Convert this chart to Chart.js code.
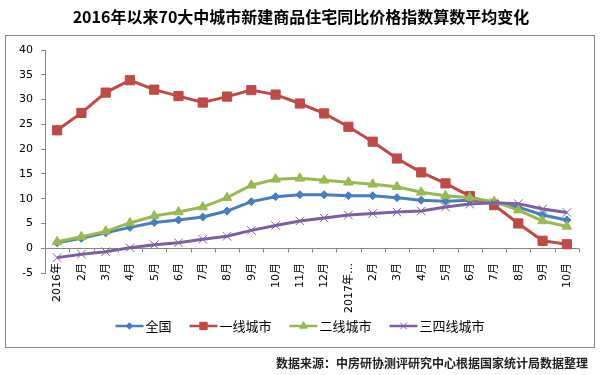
<!DOCTYPE html>
<html>
<head>
<meta charset="utf-8">
<script src="https://cdn.jsdelivr.net/npm/chart.js@4/dist/chart.umd.min.js"></script>
<style>
  html, body { margin: 0; padding: 0; background: #fff; }
  #wrap { width: 600px; height: 375px; }
</style>
</head>
<body>
<div id="wrap"><canvas id="chart" width="600" height="375"></canvas></div>
<script>
const months = ['2016年', '2月', '3月', '4月', '5月', '6月', '7月', '8月', '9月', '10月', '11月', '12月',
  '2017年…', '2月', '3月', '4月', '5月', '6月', '7月', '8月', '9月', '10月'];
const yTicks = [-5, 0, 5, 10, 15, 20, 25, 30, 35, 40];
const seriesNames = ['全国', '一线城市', '二线城市', '三四线城市'];

const national = [1.1, 2.0, 3.1, 4.2, 5.2, 5.7, 6.3, 7.5, 9.4, 10.4, 10.8, 10.8, 10.6, 10.6, 10.2, 9.7, 9.5, 9.7, 9.2, 8.3, 6.7, 5.7];
const tier1 = [23.8, 27.3, 31.4, 33.9, 32.0, 30.7, 29.4, 30.6, 31.9, 31.0, 29.2, 27.2, 24.5, 21.5, 18.1, 15.3, 13.1, 10.5, 8.7, 5.0, 1.5, 0.8];
const tier2 = [1.3, 2.3, 3.4, 5.1, 6.5, 7.3, 8.3, 10.2, 12.7, 13.9, 14.1, 13.7, 13.3, 12.9, 12.4, 11.3, 10.6, 10.2, 9.4, 7.7, 5.5, 4.4];
const tier34 = [-1.9, -1.2, -0.7, 0.1, 0.7, 1.1, 1.8, 2.4, 3.6, 4.6, 5.5, 6.1, 6.7, 7.0, 7.3, 7.5, 8.3, 8.9, 9.2, 9.0, 7.9, 7.2];

const titleText = '2016年以来70大中城市新建商品住宅同比价格指数算数平均变化';
const sourceText = '数据来源：中房研协测评研究中心根据国家统计局数据整理';

const axisColor = '#868686';
const cjk = '"Noto Sans CJK SC", sans-serif';
const tickFont = '"DejaVu Sans", "Noto Sans CJK SC", sans-serif';

const styles = [
  { color: '#4A7EBB', point: 'rectRot', radius: 4 },
  { color: '#BE4B48', point: 'rect', radius: 6.5 },
  { color: '#98B954', point: 'triangle', radius: 5.5 },
  { color: '#7D60A0', point: 'crossRot', radius: 6 },
];
const allData = [national, tier1, tier2, tier34];

// frame, title, source, zero line ticks, x labels and the legend (line + marker)
const decor = {
  id: 'decor',
  beforeDraw(chart) {
    const { ctx } = chart;
    ctx.save();
    ctx.fillStyle = '#fff';
    ctx.fillRect(0, 0, chart.width, chart.height);
    ctx.strokeStyle = axisColor;
    ctx.lineWidth = 1;
    ctx.strokeRect(5.5, 35.5, 589, 312);
    ctx.fillStyle = '#000';
    ctx.textAlign = 'center';
    ctx.textBaseline = 'middle';
    ctx.font = 'bold 16px ' + cjk;
    ctx.fillText(titleText, 301, 17);
    ctx.textAlign = 'right';
    ctx.font = 'bold 12px ' + cjk;
    ctx.fillStyle = '#222';
    ctx.fillText(sourceText, 588, 363);
    ctx.restore();
  },
  afterDraw(chart) {
    const { ctx, scales } = chart;
    const x = scales.x, y = scales.y;
    const y0 = Math.round(y.getPixelForValue(0)) + 0.5;
    const step = (x.right - x.left) / months.length;
    ctx.save();
    ctx.strokeStyle = axisColor;
    ctx.lineWidth = 1;
    ctx.beginPath();
    for (let i = 0; i <= months.length; i++) {
      const px = Math.round(x.left + i * step) + 0.5;
      ctx.moveTo(px, y0);
      ctx.lineTo(px, y0 + 4);
    }
    ctx.stroke();

    // month labels, rotated, ending just above the bottom of the plot
    ctx.fillStyle = '#000';
    ctx.font = '11px ' + tickFont;
    ctx.textAlign = 'right';
    ctx.textBaseline = 'middle';
    months.forEach((m, i) => {
      ctx.save();
      ctx.translate(x.getPixelForTick(i) + 0.5, y.bottom - 10);
      ctx.rotate(-Math.PI / 2);
      ctx.fillText(m, 0, 0);
      ctx.restore();
    });

    // legend
    ctx.font = '13px ' + cjk;
    ctx.textBaseline = 'middle';
    ctx.textAlign = 'left';
    const lineW = 28, gap = 18, ly = 326;
    const widths = seriesNames.map((n) => lineW + 2 + ctx.measureText(n).width);
    let lx = 300 - (widths.reduce((a, b) => a + b, 0) + gap * (widths.length - 1)) / 2;
    seriesNames.forEach((name, i) => {
      const s = styles[i];
      ctx.strokeStyle = s.color;
      ctx.lineWidth = 2.5;
      ctx.beginPath();
      ctx.moveTo(lx, ly);
      ctx.lineTo(lx + lineW, ly);
      ctx.stroke();
      ctx.fillStyle = s.color;
      ctx.lineWidth = 1;
      Chart.helpers.drawPoint(ctx, { pointStyle: s.point, radius: s.radius * 0.8, borderWidth: 1 }, lx + lineW / 2, ly);
      ctx.fillStyle = '#000';
      ctx.fillText(name, lx + lineW + 2, ly);
      lx += widths[i] + gap;
    });
    ctx.restore();
  },
};

new Chart(document.getElementById('chart'), {
  type: 'line',
  data: {
    labels: months,
    datasets: allData.map((d, i) => ({
      label: seriesNames[i],
      data: d,
      borderColor: styles[i].color,
      backgroundColor: styles[i].color,
      borderWidth: 3,
      pointStyle: styles[i].point,
      pointRadius: styles[i].radius,
      pointBorderColor: styles[i].color,
      pointBackgroundColor: styles[i].color,
      pointBorderWidth: 1,
      tension: 0,
      order: 4 - i,
    })),
  },
  options: {
    responsive: false,
    animation: false,
    layout: { padding: { left: 0, right: 21, top: 50, bottom: 0 } },
    plugins: {
      legend: { display: false },
      title: { display: false },
      tooltip: { enabled: false },
    },
    scales: {
      x: {
        offset: true,
        grid: { display: false, drawTicks: false, tickLength: 0 },
        border: { display: false },
        ticks: { display: false, autoSkip: false },
        afterFit(scale) { scale.height = 102; },
      },
      y: {
        min: -5,
        max: 40,
        afterBuildTicks(scale) { scale.ticks = yTicks.map((v) => ({ value: v })); },
        grid: {
          drawOnChartArea: true,
          color: (c) => (c.tick && c.tick.value === 0 ? axisColor : 'rgba(0,0,0,0)'),
          tickColor: axisColor,
          tickLength: 4,
        },
        border: { display: true, color: axisColor },
        ticks: {
          padding: 8,
          color: '#000',
          font: { family: tickFont, size: 11 },
        },
        afterFit(scale) { scale.width = 45; },
      },
    },
  },
  plugins: [decor],
});
</script>
</body>
</html>
